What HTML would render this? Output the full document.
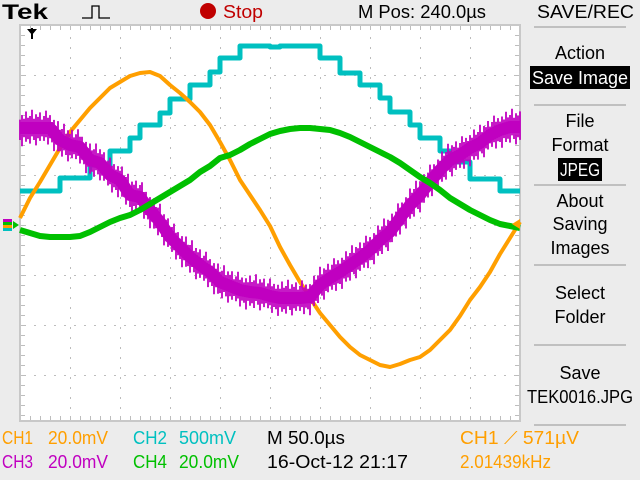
<!DOCTYPE html>
<html><head><meta charset="utf-8"><style>
html,body{margin:0;padding:0;background:#ececec;}
svg{display:block;}
text{font-family:"Liberation Sans",sans-serif;}
</style></head><body>
<svg id="scope" width="640" height="480" viewBox="0 0 640 480" xmlns="http://www.w3.org/2000/svg">
<rect x="0" y="0" width="640" height="480" fill="#ececec"/>
<text x="2" y="19" font-family="Liberation Serif,serif" font-weight="bold" font-size="21" textLength="46" lengthAdjust="spacingAndGlyphs">Tek</text>
<path d="M82 18 H92 V6 H99 V18 H110" fill="none" stroke="#000" stroke-width="1.3"/>
<circle cx="208" cy="11" r="8" fill="#c00000"/>
<text x="223" y="18" font-size="18" fill="#c00000" textLength="40" lengthAdjust="spacingAndGlyphs">Stop</text>
<text x="358" y="18" font-size="18" textLength="128" lengthAdjust="spacingAndGlyphs">M Pos: 240.0µs</text>
<text x="537" y="18" font-size="18" textLength="97" lengthAdjust="spacingAndGlyphs">SAVE/REC</text>

<g id="plot">
<rect x="20" y="25" width="500" height="396" fill="#fff" stroke="#c8c8c8" stroke-width="2"/>
<g id="grid"></g>
<g id="traces"></g>
</g>
<path d="M27 29 H37 L32 35 Z M31 28 h2 v11 h-2z" fill="#000"/>
<g>
<rect x="3" y="219" width="9" height="3" fill="#c000c0"/>
<rect x="3" y="222" width="9" height="3" fill="#00c000"/>
<rect x="3" y="225" width="9" height="3" fill="#ff9f00"/>
<rect x="3" y="228" width="9" height="3" fill="#00c0c0"/>
<path d="M13 221 L19 225 L13 229 Z" fill="#00c000"/>
</g>
<path d="M520 219 L512 224 L520 229 Z" fill="#ff9f00"/>

<g>
<line x1="534" y1="27" x2="626" y2="27" stroke="#c0c0c0" stroke-width="2"/>
<text x="580" y="59" font-size="18" text-anchor="middle">Action</text>
<rect x="530" y="66" width="100" height="23" fill="#000"/>
<text x="580" y="84" font-size="18" fill="#fff" text-anchor="middle" textLength="96" lengthAdjust="spacingAndGlyphs">Save Image</text>
<line x1="534" y1="105" x2="626" y2="105" stroke="#c0c0c0" stroke-width="2"/>
<text x="580" y="127" font-size="18" text-anchor="middle">File</text>
<text x="580" y="151" font-size="18" text-anchor="middle">Format</text>
<rect x="558" y="158" width="44" height="23" fill="#000"/>
<text x="580" y="176" font-size="18" fill="#fff" text-anchor="middle" textLength="40" lengthAdjust="spacingAndGlyphs">JPEG</text>
<line x1="534" y1="185" x2="626" y2="185" stroke="#c0c0c0" stroke-width="2"/>
<text x="580" y="207" font-size="18" text-anchor="middle">About</text>
<text x="580" y="230" font-size="18" text-anchor="middle">Saving</text>
<text x="580" y="254" font-size="18" text-anchor="middle">Images</text>
<line x1="534" y1="265" x2="626" y2="265" stroke="#c0c0c0" stroke-width="2"/>
<text x="580" y="299" font-size="18" text-anchor="middle">Select</text>
<text x="580" y="323" font-size="18" text-anchor="middle">Folder</text>
<line x1="534" y1="345" x2="626" y2="345" stroke="#c0c0c0" stroke-width="2"/>
<text x="580" y="379" font-size="18" text-anchor="middle">Save</text>
<text x="580" y="403" font-size="18" text-anchor="middle" textLength="106" lengthAdjust="spacingAndGlyphs">TEK0016.JPG</text>
<line x1="534" y1="425" x2="626" y2="425" stroke="#c0c0c0" stroke-width="2"/>
</g>

<g font-size="18">
<text x="2" y="444" fill="#ff9f00" textLength="31" lengthAdjust="spacingAndGlyphs">CH1</text>
<text x="48" y="444" fill="#ff9f00" textLength="60" lengthAdjust="spacingAndGlyphs">20.0mV</text>
<text x="133" y="444" fill="#00c0c0" textLength="34" lengthAdjust="spacingAndGlyphs">CH2</text>
<text x="179" y="444" fill="#00c0c0" textLength="57" lengthAdjust="spacingAndGlyphs">500mV</text>
<text x="267" y="444" fill="#000" textLength="78" lengthAdjust="spacingAndGlyphs">M 50.0µs</text>
<text x="460" y="444" fill="#ff9f00" textLength="119" lengthAdjust="spacingAndGlyphs">CH1 ⟋ 571µV</text>
<text x="2" y="468" fill="#c000c0" textLength="31" lengthAdjust="spacingAndGlyphs">CH3</text>
<text x="48" y="468" fill="#c000c0" textLength="60" lengthAdjust="spacingAndGlyphs">20.0mV</text>
<text x="133" y="468" fill="#00c000" textLength="34" lengthAdjust="spacingAndGlyphs">CH4</text>
<text x="179" y="468" fill="#00c000" textLength="60" lengthAdjust="spacingAndGlyphs">20.0mV</text>
<text x="267" y="468" fill="#000" textLength="141" lengthAdjust="spacingAndGlyphs">16-Oct-12 21:17</text>
<text x="460" y="468" fill="#ff9f00" textLength="91" lengthAdjust="spacingAndGlyphs">2.01439kHz</text>
</g>
</svg>
<script>
// sample times in microseconds (10 us per sample, 50 us/div)
var timeStart = 0;
var timeStep = 10;
// CH1 (orange) mV
var ch1Values = [2.8,10.8,17.2,24,30.8,37.2,42,46.8,50.8,54.8,57.2,59.6,60.8,61.2,59.6,56,52.8,49.2,45.2,40,33.2,26,18,12,6,-0.4,-8.8,-16,-22.8,-29.2,-35.2,-40,-44.8,-48.8,-52,-54,-56,-56.8,-55.6,-54,-52.8,-50,-46,-42,-36.4,-30,-24.8,-18.8,-11.6,-5.2,1.2];
// CH2 (cyan) mV
var ch2Values = [340,340,340,340,470,470,470,600,600,740,740,870,1000,1000,1120,1260,1260,1400,1400,1530,1670,1670,1790,1790,1790,1780,1790,1790,1790,1790,1670,1670,1520,1520,1400,1400,1270,1130,1130,1000,870,870,740,630,630,460,460,460,340,340,340];
// CH3 (magenta) mV
var ch3Values = [38.8,38.8,38.8,38.8,34,32,31.2,26,24.8,20,18,12,11.2,6,1.2,-4.8,-8.8,-12.8,-16,-18.8,-22.8,-24.4,-26,-26.8,-27.2,-28.4,-29.2,-29.2,-29.2,-28.8,-24,-21.2,-18.8,-16,-13.2,-10,-6,-2.8,2.8,8,12,17.2,22,26,28,30.8,32.8,36,38,39.2,39.2];
// CH4 (green) mV
var ch4Values = [-2,-3.2,-4.4,-4.8,-4.8,-4.8,-4.4,-2.8,-0.8,1.2,2.8,4,6,8.4,10.8,13.2,15.6,18,21.2,23.6,26.8,28,30,32.4,34.4,36.4,37.6,38.4,38.8,38.8,38.4,38,36.8,35.2,33.2,31.2,29.2,27.2,24.8,22,19.2,16.8,14,10.8,8.4,6,4,2,0.4,-0.4,-1.2];
var channelScales = [20, 500, 20, 20]; // mV per division

var NS = "http://www.w3.org/2000/svg";
var plotX0 = 20, divPx = 50, groundY = 225;
function xOf(t){ return plotX0 + (t - timeStart) / 50 * divPx; }
function yOf(v, scale){ return groundY - v / scale * divPx; }

var grid = document.getElementById('grid');
var gp = "";
for (var gx = 1; gx < 10; gx++) {
  for (var yy = 27; yy < 421; yy += 10) gp += "M" + (20 + gx*50) + " " + yy + "h1v2h-1z";
}
for (var gy = 1; gy < 8; gy++) {
  for (var xx = 24; xx < 520; xx += 10) gp += "M" + xx + " " + (25 + gy*50) + "h2v1h-2z";
}
for (var tx = 30; tx < 520; tx += 10) gp += "M" + tx + " 26h1v4h-1z M" + tx + " 416h1v4h-1z";
for (var ty = 35; ty < 421; ty += 10) gp += "M21 " + ty + "h4v1h-4z M515 " + ty + "h4v1h-4z";
var gpath = document.createElementNS(NS, 'path');
gpath.setAttribute('d', gp);
gpath.setAttribute('fill', '#bdbdbd');


grid.appendChild(gpath);

var traces = document.getElementById('traces');
function buildPath(vals, scale, step) {
  var d = "";
  for (var i = 0; i < vals.length; i++) {
    var x = xOf(timeStart + i * timeStep), y = yOf(vals[i], scale);
    if (i === 0) d += "M" + x + " " + y;
    else if (step) d += "V" + y + "H" + Math.min(x + timeStep/50*divPx, 520);
    else d += "L" + x + " " + y;
    if (i === 0 && step) d += "H" + (x + timeStep/50*divPx);
  }
  return d;
}
// vertical noise spikes (display texture only) following the trace
var spikePattern = [6,11,7,15,8,10,17,7,12,9,14,6,10,16,8,11];
function buildSpikes(vals, scale, base) {
  var d = "", k = 0;
  var xEnd = xOf(timeStart + (vals.length - 1) * timeStep);
  for (var x = plotX0; x <= xEnd; x += 2) {
    var f = (x - plotX0) / (timeStep / 50 * divPx);
    var i = Math.min(Math.floor(f), vals.length - 2), r = f - i;
    var y = yOf(vals[i] + (vals[i+1] - vals[i]) * r, scale);
    var up = spikePattern[k % spikePattern.length], dn = spikePattern[(k + 5) % spikePattern.length];
    d += "M" + x + " " + (y - base - up*0.9) + "V" + (y + base + dn*0.9);
    k++;
  }
  return d;
}
function addPath(d, color, width, name) {
  var p = document.createElementNS(NS, 'path');
  p.setAttribute('d', d);
  p.setAttribute('fill', 'none');
  p.setAttribute('stroke', color);
  p.setAttribute('stroke-width', width);
  p.setAttribute('stroke-linejoin', 'round');
  
  
  traces.appendChild(p);
}
addPath(buildPath(ch2Values, channelScales[1], true), '#00c0c0', 5, 'ch2-trace');
addPath(buildPath(ch1Values, channelScales[0], false), '#ff9f00', 4, 'ch1-trace');
addPath(buildPath(ch3Values, channelScales[2], false), '#c000c0', 12, 'ch3-trace');
addPath(buildSpikes(ch3Values, channelScales[2], 3), '#c000c0', 1.8, 'ch3-noise');
addPath(buildPath(ch4Values, channelScales[3], false), '#00c000', 6, 'ch4-trace');
</script>
</body></html>
